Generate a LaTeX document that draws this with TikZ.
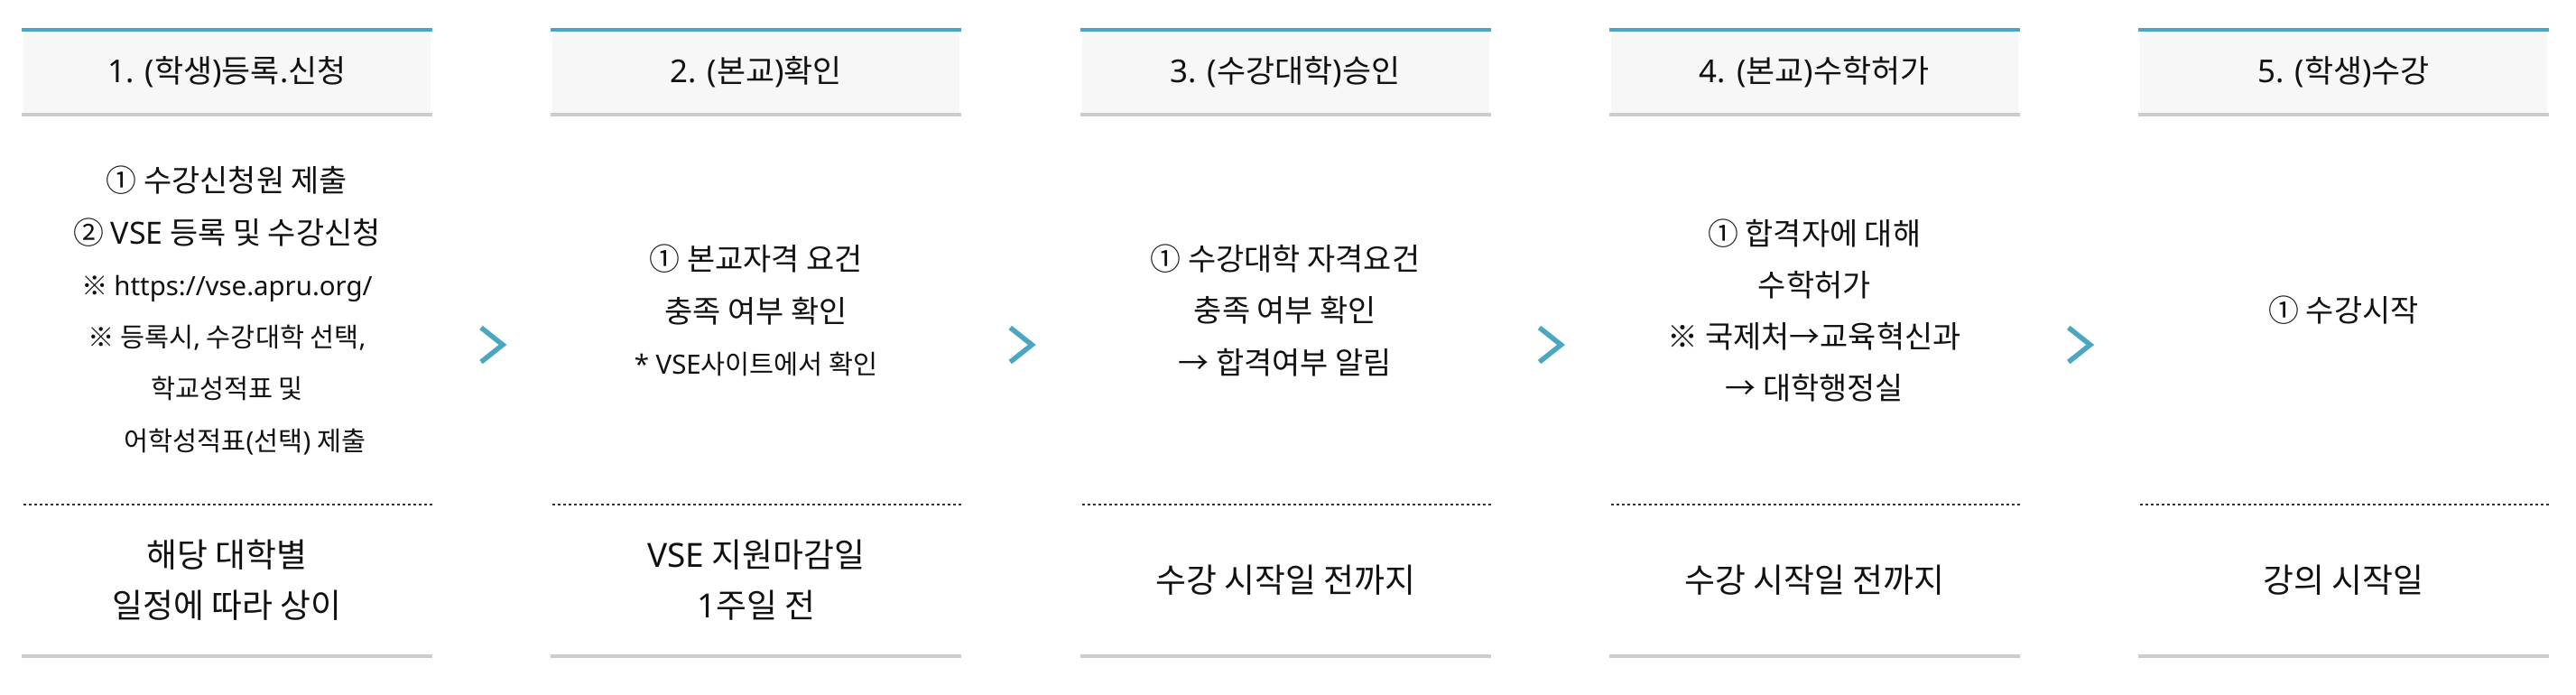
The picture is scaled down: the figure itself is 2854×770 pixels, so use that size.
\documentclass[tikz,border=0pt]{standalone}
\usepackage{fontspec}
\setmainfont{Noto Sans CJK KR}
\newfontfamily\latf{Noto Sans}
\definecolor{tealc}{HTML}{4BA6C2}
\definecolor{hdrc}{HTML}{F7F7F7}
\definecolor{grayc}{HTML}{CCCCCC}
\definecolor{dotc}{HTML}{333333}
\definecolor{txtc}{HTML}{111111}
\newcommand\smallf{\fontsize{29.5}{57.5}\selectfont}
\newcommand\stepcol[5]{%
  \fill[hdrbg] (#2+2,35) rectangle (#2+453,125);
  \draw[tealline] (#2,33) -- (#2+455,33);
  \draw[grayline] (#2,127) -- (#2+455,127);
  \draw[dotline] (#2+2,559) -- (#2+455,559);
  \draw[grayline] (#2,727) -- (#2+455,727);
  \node[titletext] (t#1) at (#2+227.5,80) {#3};
  \node[bodytext] (b#1) at (#2+227.5,344) {#4};
  \node[bottext] (d#1) at (#2+227.5,643) {#5};
}
\begin{document}
\begin{tikzpicture}[x=1bp,y=-1bp,
  hdrbg/.style={fill=hdrc},
  tealline/.style={draw=tealc,line width=4.5bp},
  grayline/.style={draw=grayc,line width=4bp},
  dotline/.style={draw=dotc,line width=2bp,dash pattern=on 3bp off 3bp},
  titletext/.style={text=txtc,font=\fontsize{35}{40}\selectfont,inner sep=0pt},
  bodytext/.style={text=txtc,font=\fontsize{34}{57.5}\selectfont,align=center,inner sep=0pt},
  bottext/.style={text=txtc,font=\fontsize{37}{56}\selectfont,align=center,inner sep=0pt},
  chev/.style={draw=tealc,line width=5.5bp,line join=miter,line cap=butt}]
\useasboundingbox (0,0) rectangle (2854,770);
\fill[white] (0,0) rectangle (2854,770);

\stepcol{1}{24}{{\latf 1. (}학생{\latf )}등록{\latf .}신청}{① 수강신청원 제출\\② {\latf VSE} 등록 및 수강신청\\{\smallf ※ {\latf https://vse.apru.org/}}\\{\smallf ※ 등록시{\latf ,} 수강대학 선택{\latf ,}}\\{\smallf 학교성적표 및\hspace*{0.3em}}\\{\smallf\hspace*{1.35em}어학성적표{\latf (}선택{\latf )} 제출}}{해당 대학별\\일정에 따라 상이}
\stepcol{2}{610.25}{{\latf 2. (}본교{\latf )}확인}{① 본교자격 요건\\충족 여부 확인\\{\smallf {\latf * VSE}사이트에서 확인}}{{\latf VSE} 지원마감일\\{\latf 1}주일 전}
\stepcol{3}{1196.5}{{\latf 3. (}수강대학{\latf )}승인}{① 수강대학 자격요건\\충족 여부 확인\\→ 합격여부 알림}{수강 시작일 전까지}
\stepcol{4}{1782.75}{{\latf 4. (}본교{\latf )}수학허가}{① 합격자에 대해\\수학허가\\※ 국제처→교육혁신과\\→ 대학행정실}{수강 시작일 전까지}
\stepcol{5}{2369}{{\latf 5. (}학생{\latf )}수강}{① 수강시작}{강의 시작일}

\foreach \i/\cx in {1/545,2/1131.25,3/1717.5,4/2303.75}{
  \coordinate (ch\i) at (\cx,382);
  \draw[chev] ([shift={(-12,-19)}]ch\i) -- ([shift={(12,0)}]ch\i) -- ([shift={(-12,19)}]ch\i);
}
\end{tikzpicture}
\end{document}
